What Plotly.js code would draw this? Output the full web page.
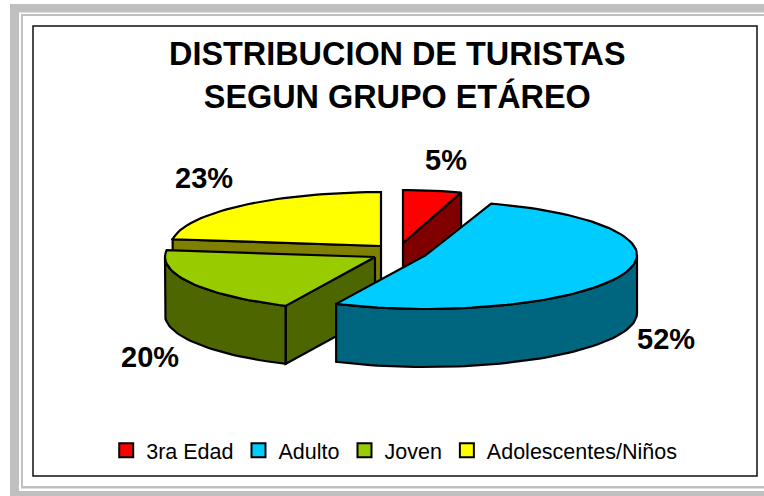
<!DOCTYPE html>
<html><head><meta charset="utf-8">
<script src="https://cdn.plot.ly/plotly-3.0.1.min.js"></script>
<style>html,body{margin:0;padding:0;background:#fff}#c{width:764px;height:496px}</style>
</head><body><div id="c"></div>
<script>
const categories = ['3ra Edad','Adulto','Joven','Adolescentes/Niños'];
const values = [5,52,20,23];
const topColors = ['#FF0000','#00CCFF','#99CC00','#FFFF00'];
const wallColors = ['#800000','#006680','#4D6600','#808000'];
const titleText = 'DISTRIBUCION DE TURISTAS<br>SEGUN GRUPO ETÁREO';

// projected-pie geometry (pixel space of the hidden axes)
const apexX = [403,426,375,381];
const apexY = [243,255,257,246];
const radiusX = [188,211,210,210];
const radiusY = [53,54,54,54];
const depth = 58;
const labelX = [446,666,150,204];
const labelY = [160,339,357,178];

const total = values.reduce((a,b)=>a+b,0);
const starts = []; let run = 0;
values.forEach(v=>{starts.push(run/total*360); run+=v;});
const ends = values.map((v,i)=>starts[i]+v/total*360);
const rad = d=>d*Math.PI/180;
function pt(i,deg,dz){return [apexX[i]+radiusX[i]*Math.sin(rad(deg)), apexY[i]-radiusY[i]*Math.cos(rad(deg))+(dz||0)];}
function arc(i,d0,d1,dz){const n=Math.max(2,Math.ceil(Math.abs(d1-d0)/2)),o=[];for(let k=0;k<=n;k++)o.push(pt(i,d0+(d1-d0)*k/n,dz));return o;}
function poly(points,fill,name){
  points=points.concat([points[0]]);
  return {type:'scatter',mode:'lines',x:points.map(p=>p[0]),y:points.map(p=>p[1]),fill:'toself',fillcolor:fill,
    line:{color:'#000',width:2.2,shape:'linear'},showlegend:false,hoverinfo:'skip',name:name};
}
function topFace(i){return poly([[apexX[i],apexY[i]]].concat(arc(i,starts[i],ends[i])),topColors[i],categories[i]);}
function cutWall(i,deg){const a=[apexX[i],apexY[i]],p=pt(i,deg);
  return poly([a,p,[p[0],p[1]+depth],[a[0],a[1]+depth]],wallColors[i],categories[i]);}
function rimWall(i,d0,d1){return poly(arc(i,d0,d1).concat(arc(i,d1,d0,depth)),wallColors[i],categories[i]);}

const traces = [
  cutWall(3,starts[3]), topFace(3),
  cutWall(0,ends[0]), topFace(0),
  cutWall(2,starts[2]), rimWall(2,starts[2],270), topFace(2),
  rimWall(1,90,ends[1]), topFace(1)
];
categories.forEach((c,i)=>traces.push({type:'scatter',mode:'markers',x:[null],y:[null],name:c,
  marker:{symbol:'square',size:14,color:topColors[i],line:{color:'#000',width:2}},hoverinfo:'skip'}));

const G='#C0C0C0';
const rect=(x0,y0,x1,y1)=>({type:'rect',xref:'x',yref:'y',x0,y0,x1,y1,fillcolor:G,line:{width:0},layer:'below'});
const shapes=[
  rect(10,4,764,12.5),rect(10,4,19,496),rect(10,491,764,496),
  rect(21,14,764,16),rect(21,14,23,488),rect(21,486,764,488.5),
  {type:'rect',xref:'x',yref:'y',x0:33,y0:26,x1:757,y1:476,fillcolor:'#fff',line:{color:'#111',width:1.5},layer:'below'}
];
const annotations=values.map((v,i)=>({xref:'x',yref:'y',x:labelX[i],y:labelY[i],text:'<b>'+v+'%</b>',showarrow:false,
  xanchor:'center',yanchor:'middle',font:{family:'Liberation Sans',size:29,color:'#000'}}));

Plotly.newPlot('c',traces,{
  width:764,height:496,margin:{l:0,r:0,t:0,b:0},paper_bgcolor:'#fff',plot_bgcolor:'rgba(0,0,0,0)',
  font:{family:'Liberation Sans',color:'#000'},
  title:{text:'<b>'+titleText.replace('<br>','</b><br><b>')+'</b>',x:0.52,xanchor:'center',xref:'paper',y:0.868,yanchor:'top',yref:'paper',
    font:{family:'Liberation Sans',size:32.4,color:'#000'}},
  xaxis:{range:[0,764],visible:false,fixedrange:true},
  yaxis:{range:[496,0],visible:false,fixedrange:true},
  showlegend:true,
  legend:{orientation:'h',x:0.516,xanchor:'center',y:0.092,yanchor:'middle',bgcolor:'rgba(0,0,0,0)',
    font:{family:'Liberation Sans',size:21.5,color:'#000'},itemwidth:30,traceorder:'normal'},
  shapes,annotations
},{displayModeBar:false,staticPlot:true});
</script></body></html>
